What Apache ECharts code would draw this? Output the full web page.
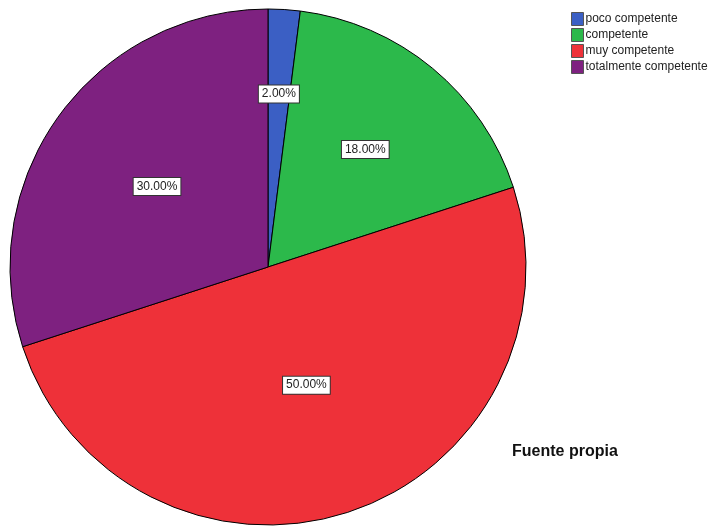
<!DOCTYPE html>
<html>
<head>
<meta charset="utf-8">
<script src="https://cdn.jsdelivr.net/npm/echarts@6/dist/echarts.min.js"></script>
<style>
  html, body { margin: 0; padding: 0; background: #ffffff; }
  #chart { width: 726px; height: 527px; }
</style>
</head>
<body>
<div id="chart"></div>
<script>
// Competence levels and their shares (%)
const categories = ['poco competente', 'competente', 'muy competente', 'totalmente competente'];
const shares = [2, 18, 50, 30];
const sliceColors = ['#3b5fc4', '#2cb94b', '#ee3139', '#7e2180'];
const sourceNote = 'Fuente propia';

// Where each value box sits along its slice, as a fraction of the radius
const labelRadiusRatio = [0.66, 0.58, 0.47, 0.52];

const PIE_R = 258;
const total = shares.reduce((a, b) => a + b, 0);

const chart = echarts.init(document.getElementById('chart'), null, { renderer: 'canvas' });

const pieData = categories.map((name, i) => ({
  name: name,
  value: shares[i],
  itemStyle: { color: sliceColors[i] }
}));

// Mid-angle of each slice, measured clockwise from 12 o'clock
function midAngle(index) {
  let before = 0;
  for (let i = 0; i < index; i++) before += shares[i];
  return ((before + shares[index] / 2) / total) * Math.PI * 2;
}

chart.setOption({
  backgroundColor: '#ffffff',
  animation: false,
  legend: {
    orient: 'vertical',
    left: 566,
    top: 7,
    itemWidth: 12,
    itemHeight: 13,
    itemGap: 2,
    icon: 'rect',
    itemStyle: { borderColor: '#555', borderWidth: 1 },
    textStyle: { fontFamily: 'Liberation Sans, Arial, sans-serif', fontSize: 12, color: '#222', padding: [0, 0, 0, -3] },
    data: categories
  },
  graphic: [{
    type: 'text',
    left: 512,
    top: 444,
    style: {
      text: sourceNote,
      font: 'bold 16px "Liberation Sans", Arial, sans-serif',
      fill: '#111'
    }
  }],
  series: [{
    type: 'pie',
    center: [268, 267],
    radius: [0, PIE_R],
    startAngle: 90,
    clockwise: true,
    avoidLabelOverlap: false,
    itemStyle: { borderColor: '#000', borderWidth: 1 },
    label: {
      show: true,
      position: 'inside',
      formatter: p => p.value.toFixed(2) + '%',
      fontFamily: 'Liberation Sans, Arial, sans-serif',
      fontSize: 12,
      color: '#222',
      backgroundColor: '#ffffff',
      borderColor: '#333',
      borderWidth: 1,
      padding: [3, 3, 2, 3]
    },
    labelLayout: function (params) {
      const i = params.dataIndex;
      const a = midAngle(i);
      const shift = (labelRadiusRatio[i] - 0.5) * PIE_R;
      return { dx: shift * Math.sin(a), dy: -shift * Math.cos(a) };
    },
    labelLine: { show: false },
    emphasis: { disabled: true },
    data: pieData
  }]
});
</script>
</body>
</html>
